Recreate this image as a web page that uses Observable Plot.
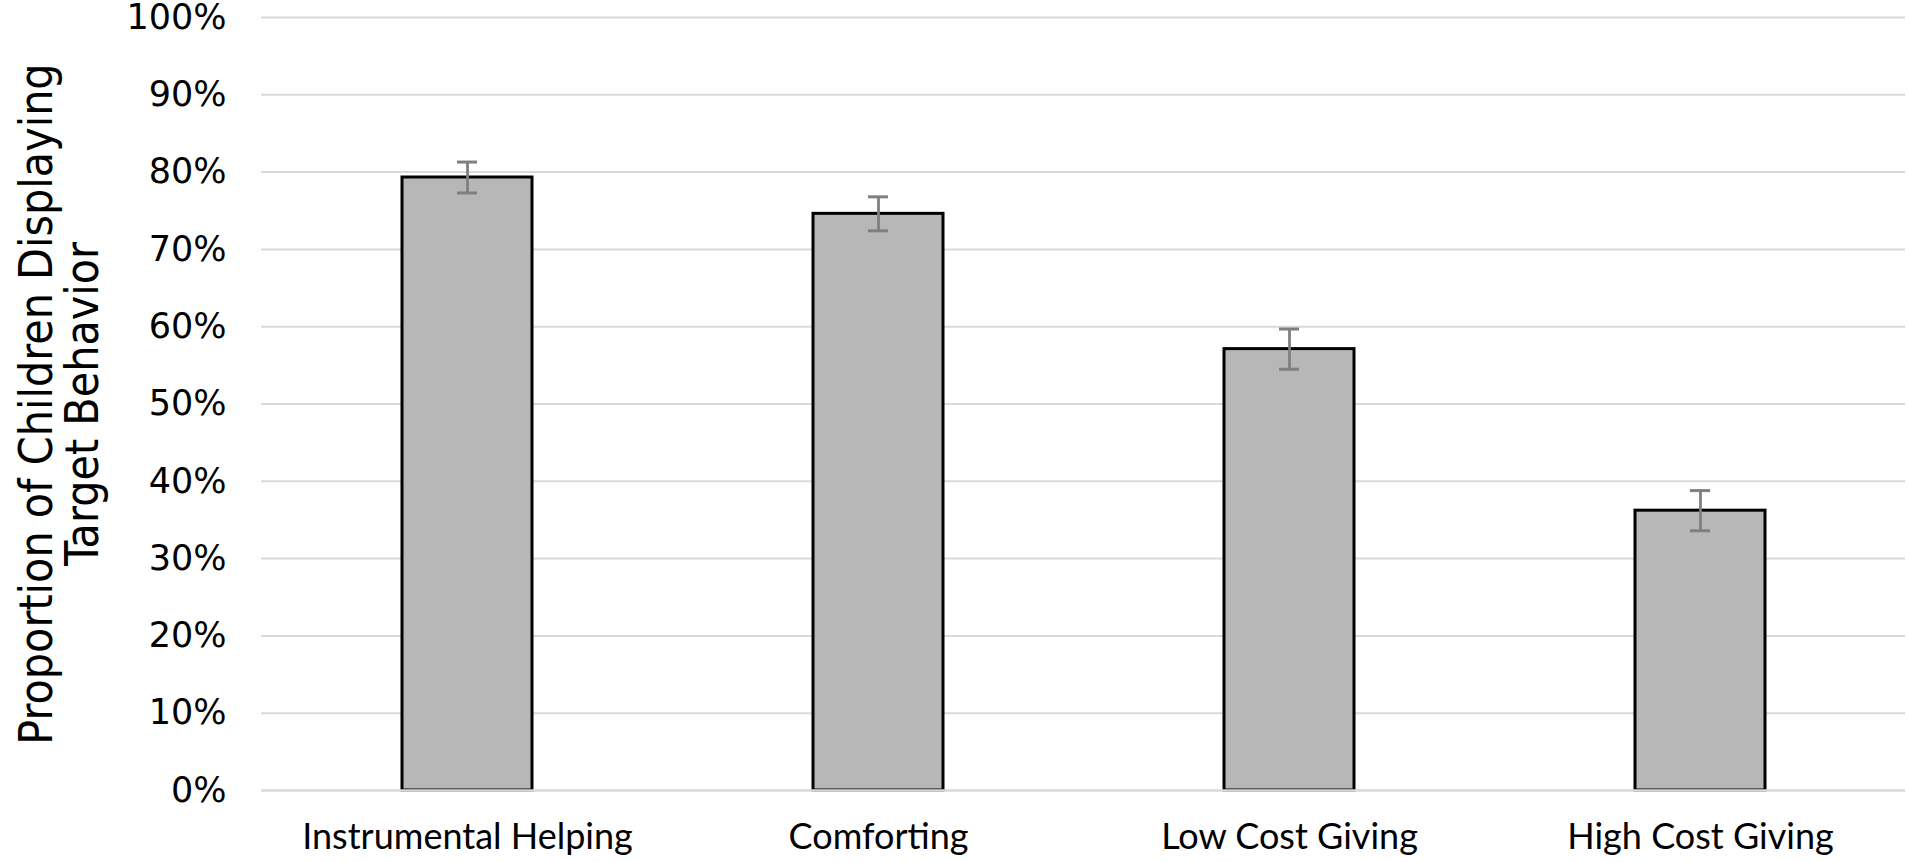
<!DOCTYPE html>
<html>
<head>
<meta charset="utf-8">
<script src="https://cdn.jsdelivr.net/npm/d3@7"></script>
<script src="https://cdn.jsdelivr.net/npm/@observablehq/plot@0.6"></script>
<style>
  html, body { margin: 0; padding: 0; background: #fff; }
</style>
</head>
<body>
<div id="chart"></div>
<script>
const categories = ["Instrumental Helping", "Comforting", "Low Cost Giving", "High Cost Giving"];
const values = [0.793, 0.746, 0.571, 0.362];
const errors = [0.020, 0.022, 0.026, 0.026];
const yTicks = [0, 0.1, 0.2, 0.3, 0.4, 0.5, 0.6, 0.7, 0.8, 0.9, 1.0];
const yTitle = "Proportion of Children Displaying\nTarget Behavior";

const data = categories.map((c, i) => ({
  cat: c, value: values[i], lo: values[i] - errors[i], hi: values[i] + errors[i]
}));

const chart = Plot.plot({
  width: 1908,
  height: 862,
  marginLeft: 261,
  marginRight: 3,
  marginTop: 17,
  marginBottom: 72,
  style: { fontFamily: "Lato, 'Open Sans', sans-serif", fontSize: "35px", color: "#000", background: "#fff" },
  x: { domain: categories, paddingInner: 0.684, paddingOuter: 0.342, label: null },
  y: { domain: [0, 1], label: null },
  marks: [
    Plot.ruleY(yTicks.filter(d => d > 0), { stroke: "#d9d9d9", strokeWidth: 2 }),
    Plot.barY(data, { x: "cat", y: "value", fill: "#b7b7b7", stroke: "#000", strokeWidth: 3 }),
    Plot.ruleY([0], { stroke: "#d9d9d9", strokeWidth: 2.5 }),
    Plot.ruleX(data, { x: "cat", y1: "lo", y2: "hi", stroke: "#7f7f7f", strokeWidth: 2.8 }),
    Plot.tickY(data, { x: "cat", y: "lo", stroke: "#7f7f7f", strokeWidth: 3, inset: 55 }),
    Plot.tickY(data, { x: "cat", y: "hi", stroke: "#7f7f7f", strokeWidth: 3, inset: 55 }),
    Plot.axisY({ ticks: yTicks, tickFormat: d3.format(".0%"), tickSize: 0, tickPadding: 35, label: null,
      fontSize: 35, fontFamily: "'DejaVu Sans', sans-serif" }),
    Plot.axisX({ tickSize: 0, tickPadding: 33, label: null, fontSize: 36 }),
    Plot.text([yTitle], {
      frameAnchor: "left", rotate: -90, dx: -201, textAnchor: "middle", lineAnchor: "middle",
      fontFamily: "'Liberation Sans Narrow', 'DejaVu Sans Condensed', sans-serif", fontSize: 46, lineHeight: 1.0, fill: "#000"
    })
  ]
});
document.getElementById("chart").appendChild(chart);
</script>
</body>
</html>
